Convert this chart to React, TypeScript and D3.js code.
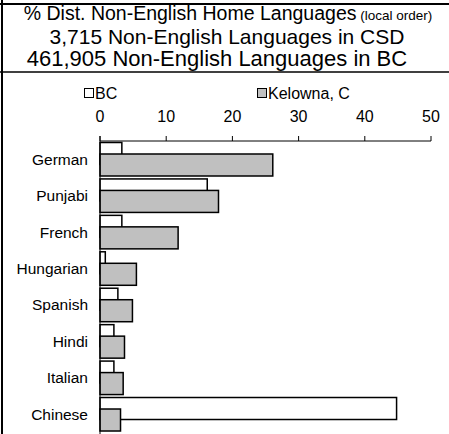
import React from "react";
import * as d3 from "d3";

const categories = ["German", "Punjabi", "French", "Hungarian", "Spanish", "Hindi", "Italian", "Chinese"];
const bcValues = [3.3, 16.2, 3.3, 0.8, 2.7, 2.1, 2.1, 44.8];
const kelownaValues = [26.1, 17.9, 11.8, 5.5, 4.9, 3.7, 3.5, 3.1];
const xTicks = [0, 10, 20, 30, 40, 50];
const seriesNames = ["BC", "Kelowna, C"];
const titleLine1 = "% Dist. Non-English Home Languages";
const titleLine1Small = "(local order)";
const titleLine2 = "3,715 Non-English Languages in CSD";
const titleLine3 = "461,905 Non-English Languages in BC";

const W = 449;
const H = 434;
const FONT = "'Liberation Sans', Arial, Helvetica, sans-serif";

export default function App() {
  const x = d3.scaleLinear().domain([0, 50]).range([100, 431]);
  const y = d3.scaleBand<string>().domain(categories).range([141, 141 + 8 * 36.43]).paddingInner(0);
  const barH = 22;
  const offBC = 1.5;
  const offK = 13;

  return (
    <svg
      width={W}
      height={H}
      style={{ position: "absolute", left: 0, top: 0, background: "#fff" }}
      fontFamily={FONT}
    >
      <rect x={0} y={0} width={W} height={H} fill="#fff" />
      {/* frame */}
      <line x1={2} x2={2} y1={0} y2={H} stroke="#000" strokeWidth={2} />
      <line x1={0} x2={W} y1={4} y2={4} stroke="#000" strokeWidth={2} />
      <line x1={0} x2={W} y1={72} y2={72} stroke="#000" strokeWidth={1.5} />

      {/* titles */}
      <text x={228} y={20} textAnchor="middle" fontSize={19.5} fill="#000">
        {titleLine1}
        <tspan fontSize={13.5}> {titleLine1Small}</tspan>
      </text>
      <text x={227} y={43.5} textAnchor="middle" fontSize={21} fill="#000">
        {titleLine2}
      </text>
      <text x={217} y={66} textAnchor="middle" fontSize={22} fill="#000">
        {titleLine3}
      </text>

      {/* legend */}
      <rect x={84.5} y={88.5} width={9} height={9} fill="#fff" stroke="#000" strokeWidth={1} />
      <text x={95} y={98.5} fontSize={16} fill="#000">{seriesNames[0]}</text>
      <rect x={257.5} y={88.5} width={9} height={9} fill="#c0c0c0" stroke="#000" strokeWidth={1} />
      <text x={268} y={98.5} fontSize={16} fill="#000">{seriesNames[1]}</text>

      {/* x axis (top) */}
      <line x1={x(0)} x2={x(50)} y1={141} y2={141} stroke="#000" strokeWidth={1} />
      {xTicks.map((t) => (
        <g key={t}>
          <line x1={x(t)} x2={x(t)} y1={136} y2={141} stroke="#000" strokeWidth={1} />
          <text x={x(t)} y={122} textAnchor="middle" fontSize={16} fill="#000">
            {t}
          </text>
        </g>
      ))}

      {/* bars */}
      {categories.map((c, i) => {
        const y0 = y(c) as number;
        return (
          <g key={c}>
            <rect
              x={x(0)}
              y={y0 + offBC}
              width={x(bcValues[i]) - x(0)}
              height={barH}
              fill="#fff"
              stroke="#000"
              strokeWidth={1.5}
            />
            <rect
              x={x(0)}
              y={y0 + offK}
              width={x(kelownaValues[i]) - x(0)}
              height={barH}
              fill="#c0c0c0"
              stroke="#000"
              strokeWidth={1.5}
            />
            <text
              x={88}
              y={y0 + y.bandwidth() / 2}
              dy="0.35em"
              textAnchor="end"
              fontSize={15.5}
              fill="#000"
            >
              {c}
            </text>
          </g>
        );
      })}

      {/* y axis */}
      <line x1={x(0)} x2={x(0)} y1={136} y2={H} stroke="#000" strokeWidth={1} />
    </svg>
  );
}
